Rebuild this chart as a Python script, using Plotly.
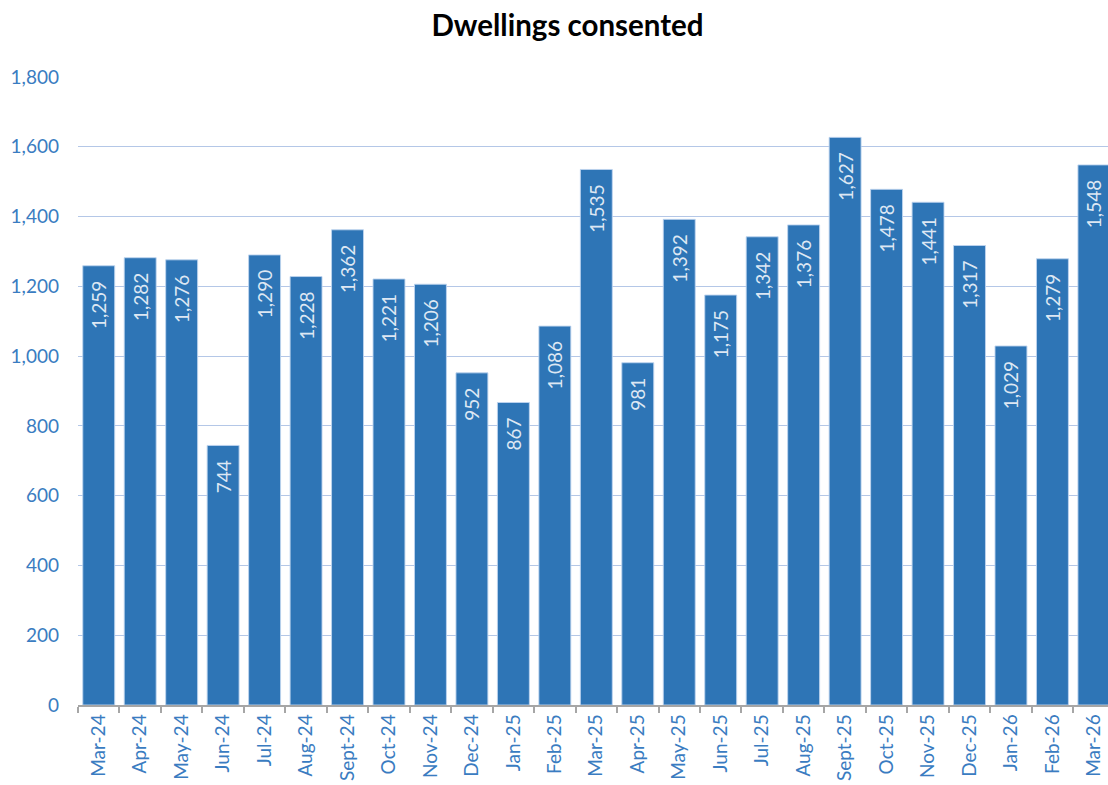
import plotly.graph_objects as go

months = ["Mar-24", "Apr-24", "May-24", "Jun-24", "Jul-24", "Aug-24", "Sept-24", "Oct-24",
          "Nov-24", "Dec-24", "Jan-25", "Feb-25", "Mar-25", "Apr-25", "May-25", "Jun-25",
          "Jul-25", "Aug-25", "Sept-25", "Oct-25", "Nov-25", "Dec-25", "Jan-26", "Feb-26", "Mar-26"]
dwellings = [1259, 1282, 1276, 744, 1290, 1228, 1362, 1221, 1206, 952, 867, 1086, 1535, 981,
             1392, 1175, 1342, 1376, 1627, 1478, 1441, 1317, 1029, 1279, 1548]
y_ticks = [0, 200, 400, 600, 800, 1000, 1200, 1400, 1600, 1800]

BLUE = "#2E75B6"
TICK_BLUE = "#3A7CC1"
FONT = "Lato"

fig = go.Figure(go.Bar(
    x=months,
    y=dwellings,
    marker=dict(color=BLUE, line=dict(color="rgba(190,212,238,0.9)", width=1)),
    text=[f"{v:,}\u2002\u2009" for v in dwellings],
    textposition="inside",
    insidetextanchor="end",
    textangle=-90,
    textfont=dict(family=FONT, size=19, color="#DDE7F3"),
))

fig.update_layout(
    width=1108, height=785,
    margin=dict(l=78, r=0, t=77, b=80),
    paper_bgcolor="white", plot_bgcolor="white",
    title=dict(text="<b>Dwellings consented</b>", x=(432 + 703) / 2 / 1108, xanchor="center",
               y=1 - 26 / 785, yanchor="middle",
               font=dict(family=FONT, size=29.5, color="black")),
    bargap=0.23,
    showlegend=False,
    uniformtext=dict(minsize=19, mode="show"),
)
fig.update_xaxes(
    range=[-0.5, 24.34],
    tickangle=-90,
    tickfont=dict(family=FONT, size=19, color=TICK_BLUE),
    showline=True, linecolor="#A6A6A6", linewidth=1.5,
    ticks="outside", ticklen=6, tickcolor="#A6A6A6", tickwidth=1.5,
    tickson="boundaries",
    showgrid=False,
)
fig.update_yaxes(
    range=[0, 1800],
    tickvals=y_ticks,
    tickformat=",",
    tickfont=dict(family=FONT, size=19, color=TICK_BLUE),
    gridcolor="#B4C7E7", gridwidth=1,
    zeroline=False,
    ticks="", ticklabelstandoff=18,
)

fig.write_html(
    "out.html",
    config={"displayModeBar": False},
    post_script="document.body.style.margin='0';document.body.style.overflow='hidden';",
)
